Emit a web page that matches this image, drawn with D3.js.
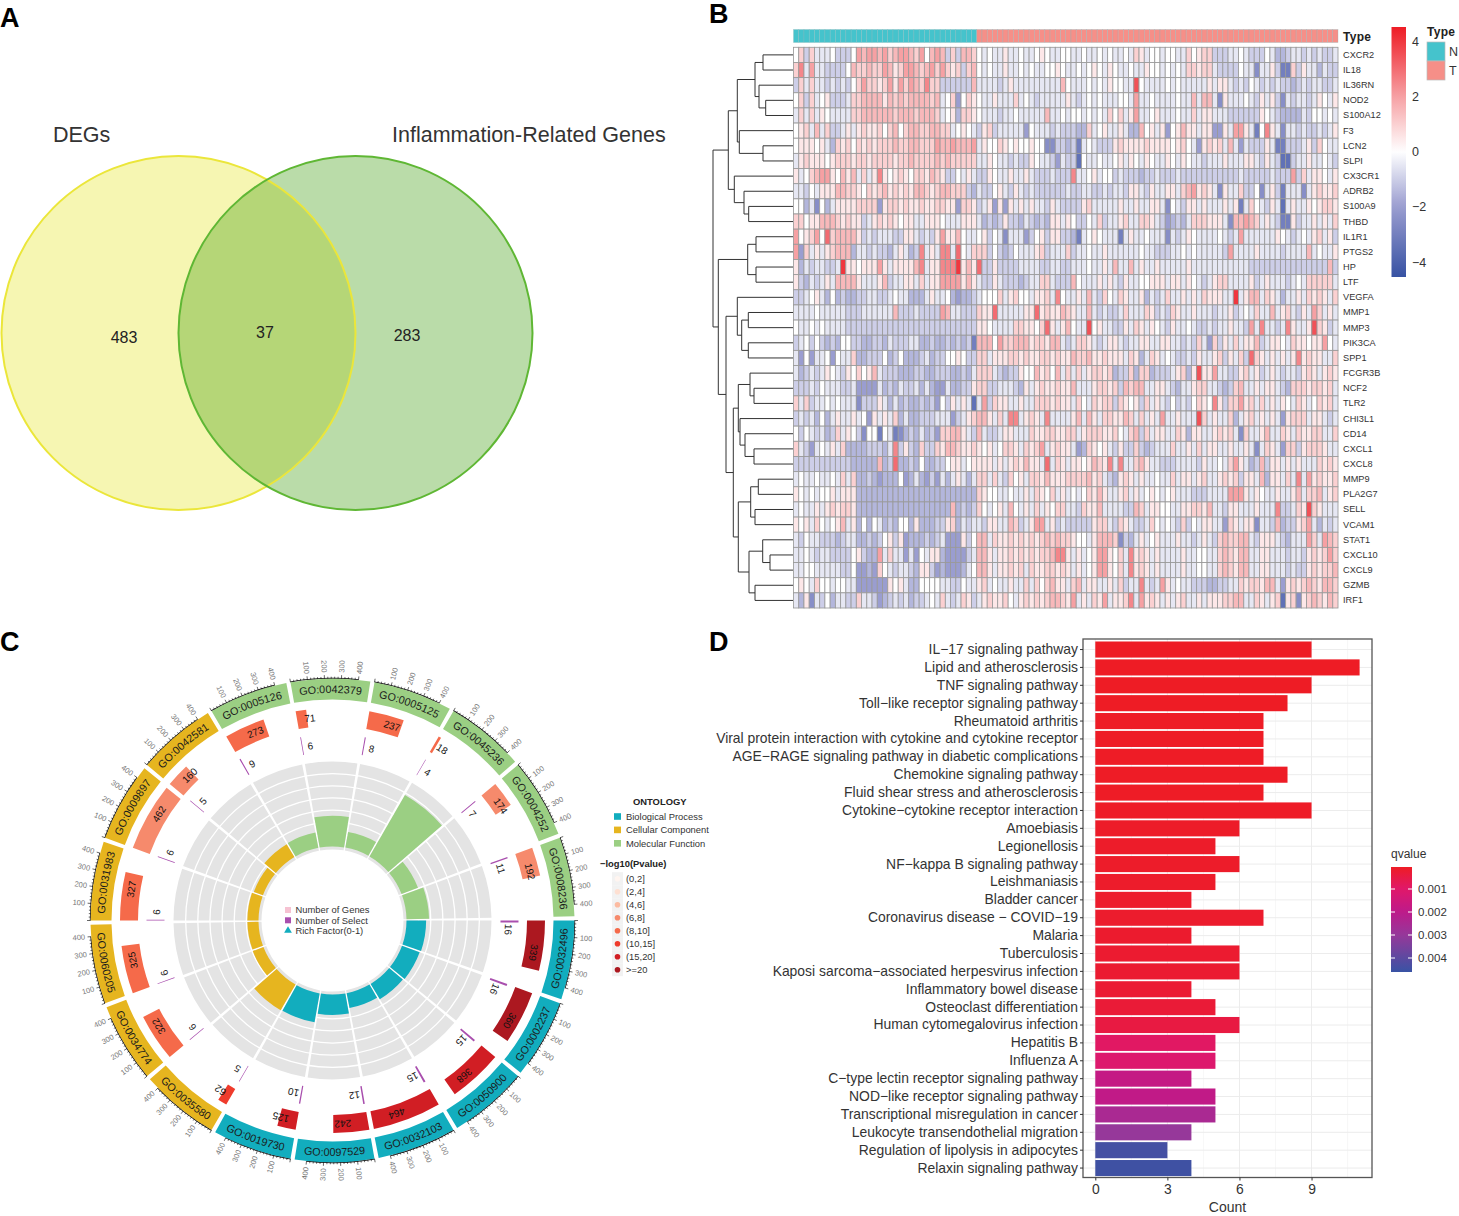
<!DOCTYPE html>
<html><head><meta charset="utf-8">
<script src="https://cdn.jsdelivr.net/npm/d3@7/dist/d3.min.js"></script>
<style>html,body{margin:0;background:#fff}text{font-family:"Liberation Sans",Arial,sans-serif}</style>
</head><body><svg id="c" width="1459" height="1216"></svg>
<script>
// ---------- Panel A
const vennNames = ["DEGs","Inflammation-Related Genes"];
const vennCounts = [483,37,283];
// ---------- Panel B
const geneNames = ["CXCR2","IL18","IL36RN","NOD2","S100A12","F3","LCN2","SLPI","CX3CR1","ADRB2","S100A9","THBD","IL1R1","PTGS2","HP","LTF","VEGFA","MMP1","MMP3","PIK3CA","SPP1","FCGR3B","NCF2","TLR2","CHI3L1","CD14","CXCL1","CXCL8","MMP9","PLA2G7","SELL","VCAM1","STAT1","CXCL10","CXCL9","GZMB","IRF1"];
const normalSamples = 35, tumourSamples = 69;
const heatTicks = [4,2,0,-2,-4];
// level codes read cell by cell: a=-4 ... i=0 ... q=+4, half-unit steps
const heatRows = [
"ikgkh hhigg gimlm mlmkl mmlkm ilmlg kgllk ihihh jhhih hijih hiihh ihhih ihhih kjhii hiihh kijkk ggghh ihggg ihffg hhghg hggh",
"knhmh hgggg ilkkl kkmlj kmmlk lmkmk jkgkl ihihh jhhih ihhii jihhi hijih jihhi hhjii hihih kkjkk hgggg ihhdh hjgcc kgjhh fhgg",
"gkhkh hghgh gikmk kjkmj mkmlk nkkgg ggggl hhhhg hjhhh hhhhh hlihh hihih jiihh pihhh hihih hhhhj hjjhg hgihg hghgg fghgh hggh",
"ikgkh ijggg hkkll lljlk lklll lklhi keikj ihhjh hhkhi hghhh hhjhg hihih hhiih mhhih hhhih hlhll hdjhh hihgj hjgdh ghhgh jihj",
"hkhkh jihhh hkkll llllk lllkl llkhi jfkkj ihhhg hhihh hhhlh hihii hihih kikhj mhhij hhhih hkhjj hhhgg ggggj ihgff ffhgi ihih",
"ijkhl hkggh jhjkj jkikl ikllk kllkk hijih gjkgh hhhhe ihhhg hgggf fkhij hhjhf flijh jeijl jjhjj eejhm mjhci njhdh hghgg hghj",
"ijjji jhfkj kikjk jkkkl kkllk kkmll mlllm hjiik jijii jiidd ggfgc hihgg gjkjj jjkjj jjijk ihejk jkhlh ehggg jhccg gghjg kihh",
"hjkjj jijkk kjkkj kkkkj kklkk kklkl kkkkk hhjih hghgg jihhg ehggb ihhih hijhj ihjih hjihj ihhgh hhjhh hjjhg jhgbb ghhjh hihg",
"jhikl mmjil jlhkh jnjij kjikk jlkjg gihjh ggjih hjhhj hgggh gggnh hijhi ighgg gfggh ggghg ggggg ggggg hgggg ghggg mgkhj jihj",
"hhgih jjjll kkjik jkljk jkjll kjkll kkkgf hggij hgjhg hgggg gghgg hhggh ghhgj jhgjh hjjhk lmjkj hdjhh kggid hjgch hhdhj kjjk",
"iifhd ifhjj jjkkk kejkk jkjjk jjkkj jekkj ghjej ejhjh jhhgj hgggg jkhhh hhjhh jhhjj hdihg jjhjh hhjhj chkih gjhbh jhhji jkkj",
"kkijj lllkj kjjgh jkjkj ijjhh jjjih hhjjj hfgfg jggfh gfgfj jhjig gihkg hhjkh hkkjh gefgf hkkkj jjhdl lmlkh jhgcc jghhj hjhk",
"mijkm iokll lljgh ghhhg gjjhg hgjmj jlihh ijgih dhhhe gijgj jggfc hijih hhchj hhihh hdhgh jihhh hihgh mhhhh hhjih ghihj khjg",
"mekhj hjkll lfhhg hggfh jhfgn hjhnn hoihk kkgig fgihh hjkgh hhkgh hihhj hhhhh hihhg gghhi hihhh hhgmh hhhjh hhhgh hhhlh ihhj",
"jfhgh hgghq jjijj jmjhj jjjln hjjnn nqjlj oggjg ggghh hhggh hgghh hihhj hlhhl hjhhj hhhhh jhhhh hhhhh hhggg ggggg ggggg gglg",
"jgfhg hjhll lljhh hjlgh hjjhk hjjmm mmjlj hggjh gggfg hhkkh gggli hhhjh jhgjh hiijj jhjjh jihgh jkkhh hhjgh jhhhg hihkk kkkh",
"gghij hfifg ffggh hgghi hhfff hjhhi feffg hiiik hjkii hjjkh nihhj hlhgk ihkjh hjfhg hkhhj hjhkj jjhhq hjllh kjhfh hjhkj kjhk",
"hhhhi hhhhh ggghh hhhhl ggghg gggml hhggg kjjoh hhhhj jojkj jlkjh hlhgh gghkh hhkjg hgkjh hjhhh ghhjg hihkh hlhjk hgjhm khjh",
"ihhih ihhhh ggggg ggggg ggggg ggggg ggggg jjihh hhkkj jikoj hjlih hpijh hggjh kjhji hgjhh ihggh ghhjh hgmhn hhghn jhhjp kjgh",
"ghigi gfgfi iggff ggfhg gghhf fgffg fgfgc lllim kklll jkkjl lhghk kjhgh jjhgh hjjhh jjhhg hgkhe kgjhk hjjlg hjjih kjjij jmih",
"heieh hieih hkffg ggifg ifffg hfggi ijigg kkhjj jkkjk jjkkj kjjlk kljjk jjjhk jfhkj hihgg hgjhh jkgjh kgokj hjhjh jnjkj jhhk",
"hfghg hjihg jikij lhggg fffgg ffggg ffgfh kkkhg fggji iljki lhkhk hjkkj kfggk fkkfg gghjk fjpjj mhhgg jkhjg hjhgh hgjkj hjkj",
"ggghg ihhhg gheee ehfgf hgghf hfeeh ffggj kkggh hhgfj hjkjj kjjlh hhjkk jkglk llhhj jhgfh hjkkh hgfgk lhhjh jjhgf kkkjk kjkh",
"khkgh hihih hhdgg gjhfh fgffg fgeig jhjhb hmgkj jhhjh hkkkj kjjhk ihkjk kgkji jgkhj hgigh gikji njgkk mjkhk hjhji hkjhi kjkh",
"ghghf ifhjh hjhie jhjhk fhffg gghhh eghjk lljhk hnnhj kjhnh hhhjl hljhk kjjlk hkhjh mhhjh hhpkh jhhkf hjkhj hjhej kkkhj jhgh",
"igihg hfgkh jigdi icihc dfgfh fgekk lljhg lhggh jjhhh kjjkk jjkkh jkkkj jkihk lgkhj jhhkj fjjhh jkjkh dkhhj lhhkj hkjjk khhk",
"khgeh ihjhk ffffg ggfhn gjgfk ggkjl lkjjk jijhi kkjhk jkmhj kjjhe fkjij hgjgg kgfgh hhkhh jhkhj jhhjh hjhdh kjhek kgjkk kjhh",
"ggggg ggggg gffff flfgo ffgfi ffggi jjhij jjjhj hjkjl jjhoh kjhjj ijlkj nhnhh kljhh ggghh hhgjh hihkm jhfgl gjjhj hjhhh kjkj",
"hihhi hhihk hkffg fefff iefhf egehf hjhfh kkhkh gkijh kkjlj jjkkk kljkh gfjkj hjhhi hhkhj jhjkh hjkjk gjjhl fjjhk hnhmj kjjk",
"jihih iijhj jjfff fffff fffff fffff fffff kjiih hihhj hkjik hjhih ikjlj hhjkh jhiji hijhh hgggh hhhmm mjhji hhjhh jlhkk lhjk",
"hihhj hjkjk kjfff fffff fffff fffff lfgfg kihij hlihj hkhji kkhhg kjjlh hhhgg lkhjj iihhj jkkjl hhgjj hhhjh hhngg hkjpk jhhh",
"jijhk ihijl hjfif ihfgf iifjf ffggj kfhgh hgjjh hlkgh jmmhj ghggg ggjkk hgkjh gghki hihgk gihjj hhekj hjjdh hglfg gjkmh fhgh",
"hgihh gggfg hhffg fgijg jefff gfghe eejgi llhkj jkjkj kjklk lkkji ihjll lkdgf hjhij hhhjh hghjh gklkk llhgj jjhgf hhhmk hmlk",
"hhihg hhggg gijgf fmhkh hehei hjjfe eeegh lljhj jkjkj kjkkl nnjhj hijmm jikhn jkjhj hhhhj hhiih hklkj llhhj jhhhg hhgjk jkmk",
"hhiih hhhhg gieef ekihg hhgfj jgefe eefhi lljhj jkjkh kjjkk jkjhj hijmm jikhn jkjhj hhhhj hhiih hklkj llhhj jhhhg hggjk jkkl",
"ijihk iihii hheee eeeji jhffi iiihh ggihh jkhih hjhhk hkikl jjhkl hjjhh jhkgh hnhgh mjhih hgggf fgghh kjkkj llhej kjklk jllk",
"hfjdh gifhh ggkhh gefgh ghfgg hihkh ghkjg hjkjj kihjk jkjkl lkjmh jhkjm hjjkn hmjkj hjhjk hhjhj jjkkl lhhkj hjkbj kdjkl kjlk"
];
// row dendrogram: [merge height, child, child]
const rowTree = [80,
 [64.7,
  [55.7,
   [38,[30,"CXCR2","IL18"],[34,"IL36RN",[27.3,"NOD2","S100A12"]]],
   [53.7,"F3",[30,"LCN2","SLPI"]]],
  [58.7,"CX3CR1",[49,"ADRB2",[44.3,"S100A9","THBD"]]]],
 [74.7,
  [45.3,[37,"IL1R1","PTGS2"],[37,"HP","LTF"]],
  [67,
   [55.7,"VEGFA",[51.3,[44.7,"MMP1","MMP3"],[44.7,"PIK3CA","SPP1"]]],
   [59.7,
    [54.7,
     [43,"FCGR3B",[39,"NCF2","TLR2"]],
     [53,"CHI3L1",[48,"CD14",[39,"CXCL1","CXCL8"]]]],
    [54.7,
     [42.3,[34.7,"MMP9","PLA2G7"],[38,"SELL","VCAM1"]],
     [44,[30.3,"STAT1",[23,"CXCL10","CXCL9"]],[38,"GZMB","IRF1"]]]]]]];
// ---------- Panel C (clockwise from 3 o'clock)
const goIds = ["GO:0032496","GO:0002237","GO:0050900","GO:0032103","GO:0097529","GO:0019730","GO:0035580","GO:0034774","GO:0060205","GO:0031983","GO:0009897","GO:0042581","GO:0005126","GO:0042379","GO:0005125","GO:0045236","GO:0004252","GO:0008236"];
const goOntology = ["BP","BP","BP","BP","BP","BP","CC","CC","CC","CC","CC","CC","MF","MF","MF","MF","MF","MF"];
const goGenes = [339,360,368,464,242,125,62,322,325,327,462,160,273,71,237,18,174,192];
const goSelect = [16,16,15,15,12,10,5,6,6,6,6,5,9,6,8,4,7,11];
const goRich = [.047,.044,.041,.032,.050,.080,.081,.019,.018,.018,.013,.031,.033,.085,.034,.222,.040,.057];
const goPvalBin = [7,7,6,6,6,6,5,4,4,4,3,3,4,4,4,4,3,3];
const goAxisTicks = [100,200,300,400];
const ontologyNames = ["Biological Process","Cellular Component","Molecular Function"];
const pvalLabels = ["(0,2]","(2,4]","(4,6]","(6,8]","(8,10]","(10,15]","(15,20]",">=20"];
const centerLegend = ["Number of Genes","Number of Select","Rich Factor(0-1)"];
// ---------- Panel D
const pathways = ["IL\u221217 signaling pathway","Lipid and atherosclerosis","TNF signaling pathway","Toll\u2212like receptor signaling pathway","Rheumatoid arthritis","Viral protein interaction with cytokine and cytokine receptor","AGE\u2212RAGE signaling pathway in diabetic complications","Chemokine signaling pathway","Fluid shear stress and atherosclerosis","Cytokine\u2212cytokine receptor interaction","Amoebiasis","Legionellosis","NF\u2212kappa B signaling pathway","Leishmaniasis","Bladder cancer","Coronavirus disease \u2212 COVID\u221219","Malaria","Tuberculosis","Kaposi sarcoma\u2212associated herpesvirus infection","Inflammatory bowel disease","Osteoclast differentiation","Human cytomegalovirus infection","Hepatitis B","Influenza A","C\u2212type lectin receptor signaling pathway","NOD\u2212like receptor signaling pathway","Transcriptional misregulation in cancer","Leukocyte transendothelial migration","Regulation of lipolysis in adipocytes","Relaxin signaling pathway"];
const pathwayCounts = [9,11,9,8,7,7,7,8,7,9,6,5,6,5,4,7,4,6,6,4,5,6,5,5,4,5,5,4,3,4];
const pathwayQ = [.00005,.00005,.00005,.00005,.00006,.00006,.00006,.00007,.00007,.00008,.0001,.00012,.00012,.00013,.00015,.00016,.00018,.0002,.00022,.00025,.0003,.00045,.0009,.0011,.0018,.0019,.0025,.003,.0044,.0045];
const countTicks = [0,3,6,9];
const qTicks = [.001,.002,.003,.004];

const svg = d3.select("#c");
const defs = svg.append("defs");
const panelLetters = [["A",0,27],["B",709,23],["C",0,651],["D",709,651]];
svg.selectAll("text.panel").data(panelLetters).join("text").attr("class","panel")
  .attr("x",d=>d[1]).attr("y",d=>d[2]).text(d=>d[0]).attr("font-size",27).attr("font-weight","bold").attr("fill","#000");

// ===== A: Venn
(function(){
  const x = d3.scaleLinear().domain([0,1]).range([178.5,355.5]);
  const cy=333, r=177;
  const g = svg.append("g");
  defs.append("clipPath").attr("id","vc").append("circle").attr("cx",x(0)).attr("cy",cy).attr("r",r);
  g.append("circle").attr("cx",x(0)).attr("cy",cy).attr("r",r).attr("fill","#F6F6B2");
  g.append("circle").attr("cx",x(1)).attr("cy",cy).attr("r",r).attr("fill","#BADCA9");
  g.append("circle").attr("cx",x(1)).attr("cy",cy).attr("r",r).attr("fill","#B5D677").attr("clip-path","url(#vc)");
  g.append("circle").attr("cx",x(0)).attr("cy",cy).attr("r",r).attr("fill","none").attr("stroke","#EBE63A").attr("stroke-width",2);
  g.append("circle").attr("cx",x(1)).attr("cy",cy).attr("r",r).attr("fill","none").attr("stroke","#5FB734").attr("stroke-width",2);
  g.append("text").attr("x",53).attr("y",142).attr("font-size",21.5).attr("fill","#333").text(vennNames[0]);
  g.append("text").attr("x",392).attr("y",142).attr("font-size",21.5).attr("fill","#333").text(vennNames[1]);
  [[124,343],[265,338],[407,341]].forEach((p,i)=>g.append("text").attr("x",p[0]).attr("y",p[1]).attr("text-anchor","middle").attr("font-size",16).attr("fill","#222").text(vennCounts[i]));
})();

// ===== B: Heatmap
(function(){
  const nCols = normalSamples+tumourSamples;
  const X = d3.scaleBand().domain(d3.range(nCols)).range([793.5,1338]);
  const Y = d3.scaleBand().domain(geneNames).range([47.3,608]);
  const col = d3.scaleLinear().domain([-4.5,-2,0,2,4.5]).range(["#3953A4","#9A9DD0","#ffffff","#F6A0A3","#EE1C25"]);
  const g = svg.append("g");
  const cells=[];
  heatRows.forEach((s,r)=>{ const t=s.replace(/ /g,"");
    for(let c=0;c<nCols;c++){ const ch=t[c]||"i"; cells.push({r,c,v:(ch.charCodeAt(0)-105)/2}); }});
  g.selectAll("rect.h").data(cells).join("rect").attr("class","h")
    .attr("x",d=>X(d.c)).attr("y",d=>Y(geneNames[d.r])).attr("width",X.bandwidth()).attr("height",Y.bandwidth())
    .attr("fill",d=>col(d.v)).attr("stroke","#9A9A9A").attr("stroke-width",0.85);
  g.selectAll("rect.a").data(d3.range(nCols)).join("rect").attr("class","a")
    .attr("x",d=>X(d)).attr("y",29.5).attr("width",X.bandwidth()).attr("height",13)
    .attr("fill",d=>d<normalSamples?"#45C3CC":"#F68F88").attr("stroke","#8fb8bc").attr("stroke-opacity",.55).attr("stroke-width",0.6);
  g.selectAll("text.g").data(geneNames).join("text").attr("class","g")
    .attr("x",1343).attr("y",d=>Y(d)+Y.bandwidth()/2+3).attr("font-size",9.2).attr("fill","#333").text(d=>d);
  g.append("text").attr("x",1343).attr("y",40.5).attr("font-size",12).attr("font-weight","bold").attr("fill","#222").attr("textLength",28).text("Type");
  // dendrogram
  const dx = d3.scaleLinear().domain([0,80]).range([793,713]);
  const root = d3.hierarchy(rowTree, d=>Array.isArray(d)?d.slice(1):null);
  root.eachAfter(n=>{
    if(n.children){ n.py=d3.mean(n.children,c=>c.py); n.px=dx(n.data[0]); }
    else { n.py=Y(n.data)+Y.bandwidth()/2; n.px=dx(0); }
  });
  const links=root.descendants().filter(n=>n.children);
  g.selectAll("path.d").data(links).join("path").attr("class","d").attr("fill","none").attr("stroke","#333").attr("stroke-width",1)
    .attr("d",n=>{const p=d3.path();const [a,b]=n.children;p.moveTo(a.px,a.py);p.lineTo(n.px,a.py);p.lineTo(n.px,b.py);p.lineTo(b.px,b.py);return p.toString();});
  // legend
  const ly = d3.scaleLinear().domain([4,-4]).range([41,262]);
  const gr = defs.append("linearGradient").attr("id","hg").attr("x1",0).attr("x2",0).attr("y1",0).attr("y2",1);
  d3.range(0,1.001,0.05).forEach(t=>{gr.append("stop").attr("offset",t).attr("stop-color",col(ly.invert(27+t*250)));});
  g.append("rect").attr("x",1391.5).attr("y",27).attr("width",14.5).attr("height",250).attr("fill","url(#hg)");
  g.selectAll("text.ht").data(heatTicks).join("text").attr("class","ht").attr("x",1412).attr("y",d=>ly(d)+4.5)
    .attr("font-size",12.5).attr("fill","#333").text(d=>d<0?"\u2212"+(-d):d);
  g.append("text").attr("x",1427).attr("y",36).attr("font-size",12).attr("font-weight","bold").attr("fill","#222").attr("textLength",28).text("Type");
  [["N","#45C3CC",42],["T","#F68F88",61]].forEach(k=>{
    g.append("rect").attr("x",1427).attr("y",k[2]).attr("width",18).attr("height",19).attr("fill",k[1]).attr("stroke","#bbb").attr("stroke-width",.7);
    g.append("text").attr("x",1449).attr("y",k[2]+14).attr("font-size",12.5).attr("fill","#333").text(k[0]);
  });
})();

// ===== C: Circular GO plot
(function(){
  const cx=332.5, cy=920.5;
  const g=svg.append("g").attr("transform",`translate(${cx},${cy})`);
  const ontoCol={BP:"#12ADBE",CC:"#E6B51F",MF:"#9BCF83"};
  const pvalCol=["#FFF5F0","#FEE0D2","#FCBBA1","#F68A6C","#F56A4A","#EF3B2C","#D11E24","#AC1820"];
  const sectorDeg=d3.scaleLinear().domain([0,goIds.length]).range([0,360]);
  const start=i=>sectorDeg(i), stop=i=>sectorDeg(i)+19;
  const valDeg=i=>d3.scaleLinear().domain([0,470]).range([start(i),stop(i)]);
  const rad=d=>(d+90)*Math.PI/180; // clockwise from 3 o'clock -> d3.arc angle
  const arc=(r0,r1,a0,a1)=>d3.arc()({innerRadius:r0,outerRadius:r1,startAngle:rad(a0),endAngle:rad(a1)});
  const pt=(deg,r)=>{const t=deg*Math.PI/180;return [r*Math.cos(t),r*Math.sin(t)];};
  const R={ringIn:221,ringOut:242,barOut:212.5,barIn:194.5,selOut:186,selIn:168,grayOut:159,grayIn:74};
  const idx=d3.range(goIds.length);
  // ring
  g.selectAll("path.ring").data(idx).join("path").attr("class","ring").attr("d",i=>arc(R.ringIn,R.ringOut,start(i),stop(i))).attr("fill",i=>ontoCol[goOntology[i]]);
  // ring labels on curved paths (path coordinates are in the group's own frame)
  idx.forEach(i=>{
    const m=(start(i)+stop(i))/2, upper=m>180;
    const p=d3.path();
    const r=upper?227.5:235.5;
    const a0=start(i)-1, a1=stop(i)+1;
    if(upper) p.arc(0,0,r,a0*Math.PI/180,a1*Math.PI/180,false);
    else p.arc(0,0,r,a1*Math.PI/180,a0*Math.PI/180,true);
    defs.append("path").attr("id","rp"+i).attr("d",p.toString());
    g.append("text").attr("font-size",10.8).attr("fill","#1c1c1c").append("textPath")
      .attr("href","#rp"+i).attr("startOffset","50%").attr("text-anchor","middle").text(goIds[i]);
  });
  const orient=deg=>deg+90;
  // axis
  idx.forEach(i=>{
    const s=valDeg(i);
    g.append("path").attr("d",d3.arc()({innerRadius:R.ringOut,outerRadius:R.ringOut+.7,startAngle:rad(s(0)),endAngle:rad(s(400))})).attr("fill","#000");
    d3.range(0,401,20).forEach(v=>{
      const major=v%100===0, [x0,y0]=pt(s(v),R.ringOut),[x1,y1]=pt(s(v),R.ringOut+(major?3.5:1.8));
      g.append("line").attr("x1",x0).attr("y1",y0).attr("x2",x1).attr("y2",y1).attr("stroke","#000").attr("stroke-width",.6);
    });
    goAxisTicks.forEach(v=>{
      const d=s(v), [x,y]=pt(d,R.ringOut+6), right=Math.cos(d*Math.PI/180)>=0;
      g.append("text").attr("transform",`translate(${x},${y}) rotate(${right?d:d+180})`)
       .attr("text-anchor",right?"start":"end").attr("dominant-baseline","central").attr("font-size",7.5).attr("fill","#777").text(v);
    });
  });
  // gene count bars
  g.selectAll("path.gb").data(idx).join("path").attr("class","gb").attr("d",i=>arc(R.barIn,R.barOut,start(i),valDeg(i)(goGenes[i]))).attr("fill",i=>pvalCol[goPvalBin[i]]);
  g.selectAll("text.gt").data(idx).join("text").attr("class","gt").attr("font-size",10).attr("fill","#111").attr("text-anchor","middle").attr("dominant-baseline","central")
    .attr("transform",i=>{const d=valDeg(i)(goGenes[i]/2)+2.2;const [x,y]=pt(d,(R.barIn+R.barOut)/2);return `translate(${x},${y}) rotate(${orient(d)})`;}).text(i=>goGenes[i]);
  // select count bars
  g.selectAll("path.sb").data(idx).join("path").attr("class","sb").attr("d",i=>arc(R.selIn,R.selOut,start(i),valDeg(i)(goSelect[i]))).attr("fill","#A94FAE");
  g.selectAll("text.st").data(idx).join("text").attr("class","st").attr("font-size",10).attr("fill","#222").attr("text-anchor","middle").attr("dominant-baseline","central")
    .attr("transform",i=>{const d=valDeg(i)(goSelect[i]/2)+2.6;const [x,y]=pt(d,176);return `translate(${x},${y}) rotate(${orient(d)})`;}).text(i=>goSelect[i]);
  // grey background and rich factor
  g.selectAll("path.gr").data(idx).join("path").attr("class","gr").attr("d",i=>arc(R.grayIn-3,R.grayOut,start(i),stop(i))).attr("fill","#E4E4E4");
  const bandLines=d3.range(1,7).map(k=>R.grayIn+k*(R.grayOut-R.grayIn)/7);
  bandLines.forEach(r=>g.append("circle").attr("r",r).attr("fill","none").attr("stroke","#fff").attr("stroke-width",1.3));
  const rich=d3.scaleLinear().domain([-.02,.27]).range([R.grayIn,R.grayOut]);
  g.selectAll("path.rb").data(idx).join("path").attr("class","rb").attr("d",i=>arc(R.grayIn,rich(goRich[i]),start(i),stop(i))).attr("fill",i=>ontoCol[goOntology[i]]);
  // center legend
  const leg=svg.append("g");
  ["#F6C2D2","#A94FAE","#12ADBE"].forEach((c,i)=>{
    const y=910+i*10.3;
    if(i<2) leg.append("rect").attr("x",285).attr("y",y-3).attr("width",6).attr("height",6).attr("fill",c);
    else leg.append("path").attr("d",d3.symbol(d3.symbolTriangle,26)()).attr("transform",`translate(288,${y})`).attr("fill",c);
    leg.append("text").attr("x",295.5).attr("y",y+3.3).attr("font-size",9.4).attr("fill","#333").text(centerLegend[i]);
  });
  // right legend
  leg.append("text").attr("x",633).attr("y",805).attr("font-size",9.4).attr("font-weight","bold").attr("fill","#222").text("ONTOLOGY");
  ontologyNames.forEach((n,i)=>{
    const y=816.5+i*13.4;
    leg.append("rect").attr("x",614).attr("y",y-3.3).attr("width",7).attr("height",6.6).attr("fill",[ontoCol.BP,ontoCol.CC,ontoCol.MF][i]);
    leg.append("text").attr("x",626).attr("y",y+3.3).attr("font-size",9.4).attr("fill","#333").text(n);
  });
  leg.append("text").attr("x",600).attr("y",866.5).attr("font-size",9.4).attr("font-weight","bold").attr("fill","#222").text("\u2212log10(Pvalue)");
  pvalLabels.forEach((n,i)=>{
    const y=878.7+i*13;
    leg.append("rect").attr("x",612).attr("y",y-6.5).attr("width",11).attr("height",13).attr("fill","#F2F2F2");
    leg.append("circle").attr("cx",617.5).attr("cy",y).attr("r",2.8).attr("fill",pvalCol[i]);
    leg.append("text").attr("x",626).attr("y",y+3.3).attr("font-size",9.4).attr("fill","#333").text(n);
  });
})();

// ===== D: Bar chart
(function(){
  const x=d3.scaleLinear().domain([0,11]).range([1095.3,1359.6]);
  const y=d3.scaleBand().domain(pathways).range([640.6,1177]).paddingInner(.1).paddingOuter(.05);
  const q=d3.scaleLinear().domain([.00005,.001,.002,.003,.0046]).range(["#EE1C25","#E0186A","#BD1A8A","#96389A","#3953A4"]);
  const g=svg.append("g");
  const L=1083,Rr=1372,T=639,B=1177.5;
  d3.range(0,11.1,1.5).forEach(v=>{
    g.append("line").attr("x1",x(v)).attr("x2",x(v)).attr("y1",T).attr("y2",B).attr("stroke",v%3===0?"#ECECEC":"#F3F3F3").attr("stroke-width",v%3===0?1:.7);
  });
  g.selectAll("line.hg").data(pathways).join("line").attr("class","hg").attr("x1",L).attr("x2",Rr)
    .attr("y1",d=>y(d)+y.bandwidth()/2).attr("y2",d=>y(d)+y.bandwidth()/2).attr("stroke","#ECECEC");
  g.selectAll("rect.b").data(pathways).join("rect").attr("class","b")
    .attr("x",x(0)).attr("y",d=>y(d)).attr("height",y.bandwidth())
    .attr("width",(d,i)=>x(pathwayCounts[i])-x(0)).attr("fill",(d,i)=>q(pathwayQ[i]));
  g.append("rect").attr("x",L).attr("y",T).attr("width",Rr-L).attr("height",B-T).attr("fill","none").attr("stroke","#555").attr("stroke-width",1.3);
  const ax=g.append("g").attr("transform",`translate(0,${B})`).call(d3.axisBottom(x).tickValues(countTicks).tickSize(3).tickPadding(4));
  const ay=g.append("g").attr("transform",`translate(${L},0)`).call(d3.axisLeft(y).tickSize(3).tickPadding(2));
  [ax,ay].forEach(a=>{a.select(".domain").remove();a.selectAll("text").attr("font-size",13.9).attr("font-family",'"Liberation Sans",Arial,sans-serif').attr("fill","#333");a.selectAll("line").attr("stroke","#333");});
  g.append("text").attr("x",1227.5).attr("y",1212).attr("text-anchor","middle").attr("font-size",14).attr("fill","#333").text("Count");
  // legend
  const ly=d3.scaleLinear().domain([.001,.004]).range([889,958]);
  const gr=defs.append("linearGradient").attr("id","qg").attr("x1",0).attr("x2",0).attr("y1",0).attr("y2",1);
  d3.range(0,1.001,.05).forEach(t=>gr.append("stop").attr("offset",t).attr("stop-color",q(ly.invert(867+t*105))));
  g.append("rect").attr("x",1391).attr("y",867).attr("width",21).attr("height",105).attr("fill","url(#qg)");
  g.append("text").attr("x",1391).attr("y",858).attr("font-size",12).attr("fill","#333").text("qvalue");
  qTicks.forEach(v=>{
    g.append("line").attr("x1",1391).attr("x2",1395).attr("y1",ly(v)).attr("y2",ly(v)).attr("stroke","#fff");
    g.append("line").attr("x1",1408).attr("x2",1412).attr("y1",ly(v)).attr("y2",ly(v)).attr("stroke","#fff");
    g.append("text").attr("x",1418).attr("y",ly(v)+4).attr("font-size",11.5).attr("fill","#333").text(v.toFixed(3));
  });
})();
</script></body></html>
